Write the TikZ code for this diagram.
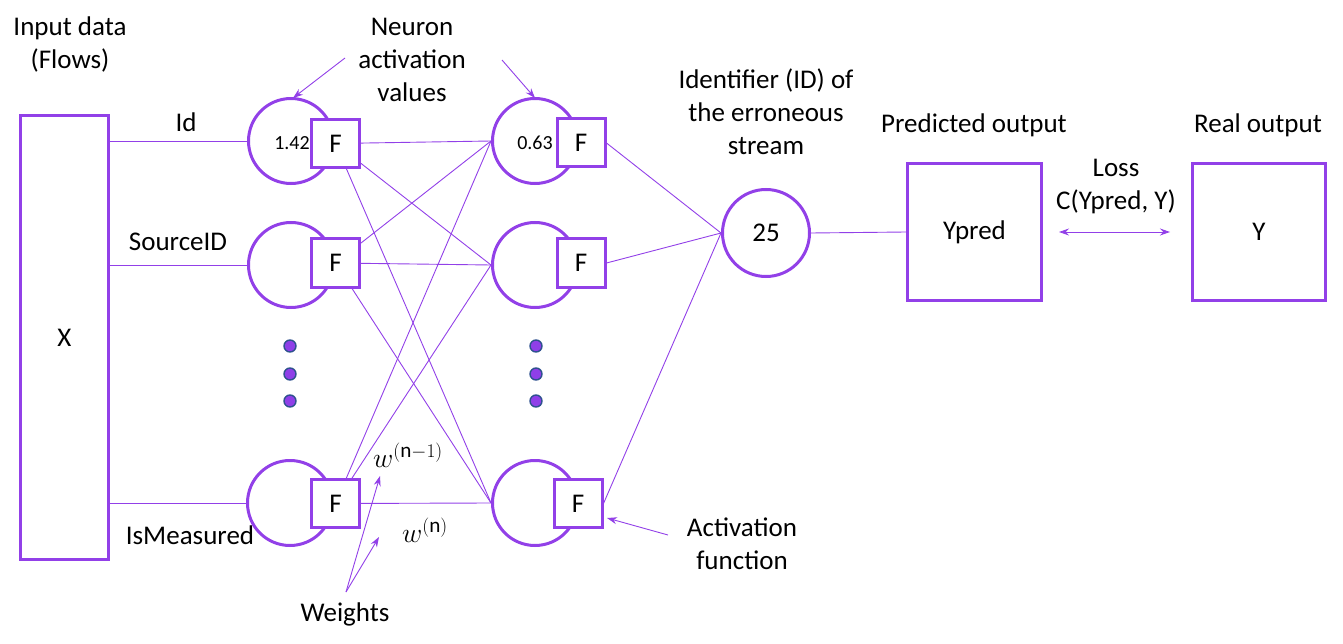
\documentclass[tikz,border=0pt]{standalone}
\usepackage{fontspec}
\setmainfont{Carlito}
\usetikzlibrary{arrows.meta}
\definecolor{pur}{RGB}{146,64,232}
\definecolor{dotfill}{RGB}{143,63,232}
\definecolor{dotline}{RGB}{47,82,143}
\begin{document}
\begin{tikzpicture}[x=1pt,y=-1pt,
  every node/.style={font=\fontsize{27}{33}\selectfont, text=black},
  neuron/.style={draw=pur, line width=3pt, circle, minimum size=85pt, inner sep=0pt},
  fbox/.style={draw=pur, line width=3pt, fill=white, minimum size=48pt, inner sep=0pt},
  bigbox/.style={draw=pur, line width=3pt, inner sep=0pt},
  conn/.style={draw=pur, line width=0.9pt},
  arr/.style={conn, -{Stealth[length=10pt,width=7pt]}},
  dotn/.style={circle, fill=dotfill, draw=dotline, line width=1.4pt, minimum size=12pt, inner sep=0pt},
  lbl/.style={align=center, inner sep=0pt},
  small/.style={font=\fontsize{20}{24}\selectfont, inner sep=0pt},
  mathlbl/.style={inner sep=0pt}
]
\useasboundingbox (0,0) rectangle (1343,644);

% big boxes
\node[bigbox, minimum width=88pt, minimum height=444pt] (X) at (64.5,337.5) {X};
\node[bigbox, minimum width=134pt, minimum height=137pt] (Yp) at (974.5,232) {Ypred};
\node[bigbox, minimum width=133pt, minimum height=137pt] (Y) at (1259,232) {Y};

% neurons layer 1
\node[neuron] (C1a) at (291,141) {};
\node[neuron] (C1b) at (291,265) {};
\node[neuron] (C1d) at (290,503) {};
% neurons layer 2
\node[neuron] (C2a) at (535,141) {};
\node[neuron] (C2b) at (535,265) {};
\node[neuron] (C2d) at (535,503) {};
% output neuron
\node[neuron, minimum size=87pt] (C3) at (766,233) {25};

% input connectors
\foreach \c in {C1a,C1b,C1d} \draw[conn] (X.east |- \c.west) -- (\c.west);

% F boxes
\node[fbox] (F1a) at (335.5,143.5) {F};
\node[fbox] (F1b) at (335.5,263) {F};
\node[fbox] (F1d) at (335.5,503.5) {F};
\node[fbox] (F2a) at (581,143) {F};
\node[fbox] (F2b) at (581,263) {F};
\node[fbox] (F2d) at (578,503.5) {F};

% layer 1 -> layer 2
\foreach \f in {F1a,F1b,F1d}
  \foreach \c in {C2a,C2b,C2d}
    \draw[conn] (\f) -- (\c.west);

% layer 2 -> output
\foreach \f in {F2a,F2b,F2d} \draw[conn] (\f.east) -- (C3.west);
\draw[conn] (C3.east) -- (Yp.west);
\draw[conn, {Stealth[length=10pt,width=7pt]}-{Stealth[length=10pt,width=7pt]}] ([xshift=16pt]Yp.east) -- ([xshift=-21pt]Y.west);

% activation values
\node[small] (v1) at (292,143) {1.42};
\node[small] (v2) at (535,143) {0.63};

% dots
\node[dotn] (d1) at (290,346) {};
\node[dotn] (d2) at (290,374) {};
\node[dotn] (d3) at (290,401) {};
\node[dotn] (d4) at (536,346) {};
\node[dotn] (d5) at (536,374) {};
\node[dotn] (d6) at (536,401) {};

% text labels
\node[lbl] (tin) at (70,45) {Input data\\(Flows)};
\node[lbl] (tid) at (186,122) {Id};
\node[lbl] (tsrc) at (178,242) {SourceID};
\node[lbl] (tism) at (190,535) {IsMeasured};
\node[lbl] (tnav) at (412,60) {Neuron\\activation\\values};
\node[lbl] (tident) at (766,112) {Identifier (ID) of\\the erroneous\\stream};
\node[lbl] (tpred) at (974,125) {Predicted output};
\node[lbl] (treal) at (1258,125) {Real output};
\node[lbl] (tloss) at (1116,187) {Loss\\C(Ypred, Y)};
\node[lbl] (tact) at (742,544) {Activation\\function};
\node[lbl] (twt) at (345,614) {Weights};
\node[mathlbl] (wn1) at (408,455) {\scalebox{1.12}{$w^{(\mathrm{n}-1)}$}};
\node[mathlbl] (wn) at (425,530) {\scalebox{1.12}{$w^{(\mathrm{n})}$}};

% annotation arrows
\coordinate (na1) at (345,58);
\coordinate (na1e) at (293,98);
\coordinate (na2) at (502,60);
\coordinate (na2e) at (535,98);
\coordinate (wt) at (346,592);
\coordinate (wt1) at (380,476);
\coordinate (wt2) at (379,537);
\coordinate (af) at (668,535);
\coordinate (afe) at (607,518);
\draw[arr] (na1) -- (na1e);
\draw[arr] (na2) -- (na2e);
\draw[arr] (wt) -- (wt1);
\draw[arr] (wt) -- (wt2);
\draw[arr] (af) -- (afe);
\end{tikzpicture}
\end{document}
